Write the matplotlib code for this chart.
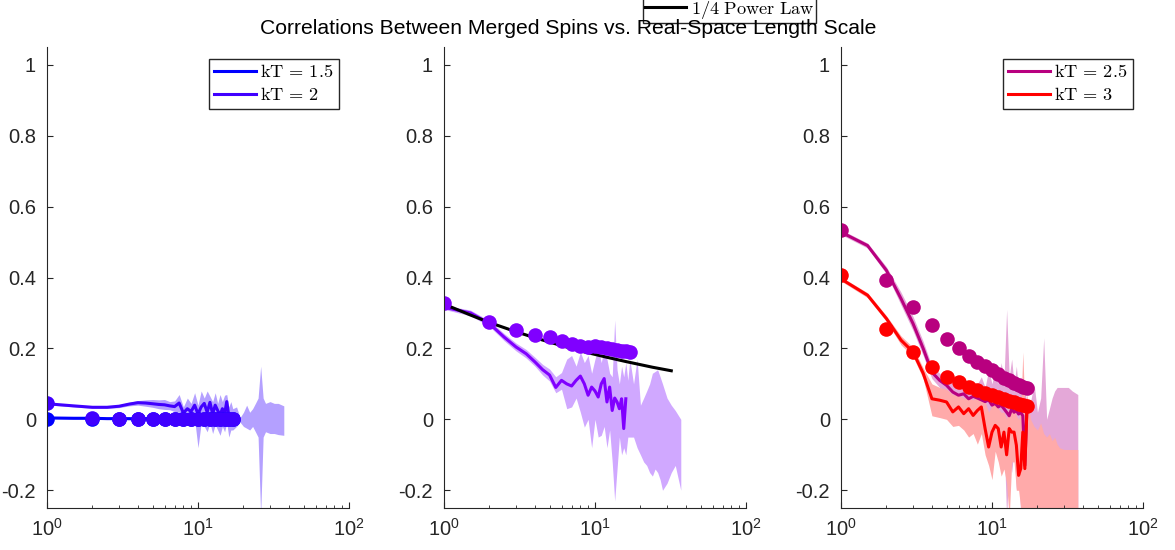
import numpy as np
import matplotlib
matplotlib.use("Agg")
import matplotlib.pyplot as plt
from matplotlib import ticker
from matplotlib.font_manager import FontProperties

plt.rcParams["font.family"] = "Liberation Sans"
plt.rcParams["mathtext.fontset"] = "custom"
plt.rcParams["mathtext.rm"] = "Liberation Sans"
plt.rcParams["mathtext.it"] = "Liberation Sans:italic"

TITLE = "Correlations Between Merged Spins vs. Real-Space Length Scale"

# length scales
x_line = [1, 1.5, 2, 2.5, 3, 3.5, 4, 4.5, 5, 5.5, 6, 6.5, 7, 7.5, 8, 8.5, 9, 9.5,
          10, 10.5, 11, 11.5, 12, 12.5, 13, 13.5, 14, 14.5, 15, 15.5, 16, 16.5, 17]
x_band = x_line + [18, 19, 20, 21, 22, 23, 24, 25, 26, 27, 28, 30, 32, 34, 37]
x_dots = [1, 2, 3, 4, 5, 6, 7, 8, 9, 10, 11, 12, 13, 14, 15, 16, 17]

# kT = 1.5
line_15 = [0.004, 0.003, 0.003, 0.002, 0.002, 0.002, 0.001, 0.002, 0.001, 0.001, 0.001,
           0.000, 0.001, 0.000, 0.001, 0.000, 0.000, 0.001, 0.000, -0.001, 0.000, 0.001,
           0.000, -0.001, 0.000, 0.001, 0.000, -0.001, 0.000, 0.000, 0.001, 0.000, 0.000]
err_15 = [0.002, 0.002, 0.002, 0.002, 0.003, 0.003, 0.003, 0.004, 0.004, 0.005, 0.005,
          0.006, 0.006, 0.007, 0.008, 0.008, 0.009, 0.010, 0.010, 0.011, 0.012, 0.012,
          0.013, 0.014, 0.014, 0.015, 0.016, 0.016, 0.017, 0.018, 0.018, 0.019, 0.020]
dots_15 = [0.0, 0.0, 0.0, 0.0, 0.0, 0.0, 0.0, 0.0, 0.0, 0.0, 0.0, 0.0, 0.0, 0.0, 0.0, 0.0, 0.0]

# kT = 2
line_2 = [0.044, 0.038, 0.034, 0.034, 0.037, 0.043, 0.047, 0.046, 0.044, 0.042, 0.041,
          0.038, 0.036, 0.046, 0.018, 0.030, 0.022, 0.040, 0.015, 0.035, 0.045, 0.020,
          0.048, 0.015, 0.040, 0.025, 0.012, 0.030, 0.015, 0.050, 0.010, 0.005, 0.003]
hi_2 = [0.047, 0.041, 0.037, 0.037, 0.041, 0.048, 0.053, 0.055, 0.056, 0.055, 0.056,
        0.050, 0.052, 0.070, 0.035, 0.060, 0.045, 0.075, 0.040, 0.080, 0.060, 0.080,
        0.065, 0.050, 0.075, 0.045, 0.070, 0.050, 0.068, 0.070, 0.035, 0.050, 0.030,
        0.035, 0.005, 0.020, 0.040, 0.020, 0.030, 0.045, 0.060, 0.150, 0.060, 0.045,
        0.050, 0.045, 0.045, 0.038]
lo_2 = [0.041, 0.035, 0.031, 0.031, 0.033, 0.038, 0.040, 0.037, 0.034, 0.030, 0.028,
        0.027, 0.022, 0.020, -0.010, -0.005, -0.020, 0.000, -0.080, -0.010, -0.020, -0.035,
        -0.010, -0.040, -0.015, -0.030, -0.045, -0.020, -0.035, -0.010, -0.050, -0.030, -0.030,
        -0.020, -0.008, -0.020, -0.025, -0.030, -0.020, -0.035, -0.050, -0.270, -0.050, -0.035,
        -0.040, -0.040, -0.043, -0.045]
dots_2 = [0.045, 0.004, 0.0, 0.0, 0.0, 0.0, 0.0, 0.0, 0.0, 0.0, 0.0, 0.0, 0.0, 0.0, 0.0, 0.0, 0.0]

# middle panel
line_c = [0.316, 0.300, 0.270, 0.232, 0.204, 0.185, 0.162, 0.140, 0.125, 0.090, 0.110,
          0.100, 0.094, 0.110, 0.122, 0.100, 0.068, 0.091, 0.080, 0.063, 0.100, 0.115,
          0.049, 0.091, 0.025, 0.060, 0.049, 0.030, 0.058, -0.026, 0.058, np.nan, 0.037]
hi_c = [0.322, 0.308, 0.278, 0.242, 0.215, 0.197, 0.175, 0.155, 0.142, 0.120, 0.132,
        0.170, 0.180, 0.150, 0.190, 0.160, 0.180, 0.130, 0.170, 0.200, 0.160, 0.200,
        0.170, 0.130, 0.120, 0.280, 0.140, 0.100, 0.150, 0.120, 0.160, 0.110, 0.170,
        0.100, 0.170, 0.040, 0.060, 0.080, 0.100, 0.130, 0.135, 0.140, 0.120, 0.100,
        0.060, 0.040, 0.025, 0.000]
lo_c = [0.310, 0.292, 0.262, 0.222, 0.193, 0.173, 0.150, 0.125, 0.108, 0.075, 0.085,
        0.030, 0.035, 0.060, 0.020, -0.022, 0.000, -0.080, 0.000, -0.050, -0.045, -0.020,
        -0.080, -0.030, -0.120, -0.230, -0.140, -0.050, -0.100, -0.080, -0.100, -0.050, -0.050,
        -0.050, -0.080, -0.100, -0.120, -0.130, -0.150, -0.160, -0.140, -0.150, -0.170, -0.200,
        -0.180, -0.150, -0.130, -0.200]
dots_c = [0.329, 0.274, 0.251, 0.239, 0.232, 0.222, 0.213, 0.208, 0.204, 0.207, 0.203,
          0.200, 0.198, 0.196, 0.194, 0.192, 0.190]
x_pow = [1, 1.5, 2, 3, 4, 6, 8, 12, 16, 24, 32]
y_pow = [0.325, 0.294, 0.273, 0.247, 0.230, 0.208, 0.193, 0.175, 0.163, 0.147, 0.137]

# kT = 2.5
line_25 = [0.528, 0.490, 0.420, 0.340, 0.270, 0.200, 0.133, 0.110, 0.096, 0.077, 0.068,
           0.072, 0.058, 0.065, 0.060, 0.055, 0.050, 0.055, 0.040, 0.045, 0.035, 0.040,
           0.030, 0.020, 0.010, 0.030, 0.020, 0.025, 0.015, 0.020, 0.010, -0.130, 0.020]
hi_25 = [0.535, 0.497, 0.430, 0.358, 0.290, 0.220, 0.150, 0.130, 0.115, 0.100, 0.095,
         0.100, 0.090, 0.100, 0.100, 0.120, 0.090, 0.140, 0.100, 0.150, 0.100, 0.160,
         0.110, 0.310, 0.120, 0.170, 0.100, 0.150, 0.080, 0.120, 0.050, 0.080, 0.050,
         0.050, 0.100, 0.020, 0.060, 0.230, 0.000, 0.030, 0.060, 0.080, 0.090, 0.090,
         0.090, 0.090, 0.080, 0.070]
lo_25 = [0.521, 0.483, 0.410, 0.322, 0.250, 0.180, 0.115, 0.090, 0.077, 0.055, 0.040,
         0.045, 0.025, 0.030, 0.020, -0.010, 0.000, -0.030, -0.020, -0.060, -0.040, -0.100,
         -0.050, -0.280, -0.100, -0.150, -0.080, -0.200, -0.100, -0.280, -0.150, -0.280, -0.200,
         -0.200, -0.280, -0.220, -0.280, -0.250, -0.280, -0.260, -0.280, -0.280, -0.280, -0.280,
         -0.280, -0.280, -0.280, -0.280]
dots_25 = [0.535, 0.394, 0.316, 0.265, 0.227, 0.202, 0.180, 0.162, 0.150, 0.138, 0.128,
           0.118, 0.110, 0.103, 0.097, 0.091, 0.088]

# kT = 3
line_3 = [0.396, 0.350, 0.284, 0.223, 0.190, 0.130, 0.058, 0.054, 0.049, 0.021, 0.035,
          0.016, 0.030, 0.011, 0.025, 0.035, -0.026, -0.078, -0.036, -0.017, -0.026, -0.078,
          -0.036, -0.100, -0.026, -0.036, -0.036, -0.073, -0.158, -0.139, -0.036, -0.139, 0.021]
hi_3 = [0.402, 0.357, 0.292, 0.235, 0.203, 0.145, 0.100, 0.090, 0.085, 0.070, 0.068,
        0.060, 0.060, 0.055, 0.070, 0.080, 0.050, 0.020, 0.040, 0.050, 0.030, 0.020,
        0.020, 0.000, 0.050, 0.040, 0.030, 0.010, 0.000, 0.020, 0.190, 0.030, 0.070,
        0.000, -0.020, -0.030, -0.010, -0.040, -0.050, -0.040, -0.060, -0.050, -0.070, -0.080,
        -0.085, -0.085, -0.085, -0.085]
lo_3 = [0.390, 0.343, 0.276, 0.210, 0.177, 0.115, 0.010, 0.005, 0.000, -0.020, -0.017,
        -0.030, -0.050, -0.040, -0.070, -0.040, -0.100, -0.130, -0.170, -0.090, -0.120, -0.160,
        -0.140, -0.180, -0.280, -0.120, -0.120, -0.200, -0.200, -0.250, -0.280, -0.280, -0.280,
        -0.280, -0.280, -0.280, -0.280, -0.280, -0.280, -0.280, -0.280, -0.280, -0.280, -0.280,
        -0.280, -0.280, -0.280, -0.280]
dots_3 = [0.406, 0.255, 0.190, 0.147, 0.119, 0.105, 0.091, 0.082, 0.075, 0.068, 0.062,
          0.057, 0.052, 0.048, 0.044, 0.041, 0.038]

C15, C2, CC, C25, C3 = "#0000FF", "#4000FF", "#8000FF", "#B8007F", "#FF0000"
AXC = "#262626"
MS = 10.5

fig = plt.figure(figsize=(11.75, 5.5), dpi=100)
lefts = [47, 444, 841]
axes = [fig.add_axes([l / 1175, 1 - 508 / 550, 302 / 1175, 461 / 550]) for l in lefts]

leg_font = FontProperties(size=13.2, math_fontfamily="cm")
leg_kw = dict(prop=leg_font, fancybox=False, edgecolor=AXC, framealpha=1,
              handlelength=2.25, handletextpad=0.25, borderpad=0.3, labelspacing=0.3,
              borderaxespad=0)


def style(ax):
    ax.set_xscale("log")
    ax.set_xlim(1, 100)
    ax.set_ylim(-0.25, 1.05)
    ax.set_yticks([-0.2, 0, 0.2, 0.4, 0.6, 0.8, 1])
    ax.yaxis.set_major_formatter(ticker.FormatStrFormatter("%g"))
    for s in ["top", "right"]:
        ax.spines[s].set_visible(False)
    for s in ["left", "bottom"]:
        ax.spines[s].set_color(AXC)
        ax.spines[s].set_linewidth(0.8)
    ax.tick_params(which="both", direction="in", colors=AXC, labelsize=14.5)
    ax.tick_params(which="major", length=4, width=0.8)
    ax.tick_params(which="minor", length=2.5, width=0.6)
    ax.tick_params(axis="y", pad=8)
    ax.tick_params(axis="x", pad=7)


def band(ax, lo, hi, color):
    ax.fill_between(x_band, lo, hi, color=color, linewidth=0)


# left panel
ax = axes[0]
ax.fill_between(x_line, np.array(line_15) - np.array(err_15),
                np.array(line_15) + np.array(err_15), color="#9999FF", linewidth=0)
band(ax, lo_2, hi_2, "#B4A0FF")
h2, = ax.plot(x_line, line_2, color=C2, lw=2.2)
h15, = ax.plot(x_line, line_15, color=C15, lw=2.2)
ax.plot(x_dots, dots_15, "o", color=C15, ms=MS, mec="none")
ax.plot(x_dots, dots_2, "o", color=C2, ms=MS, mec="none")
style(ax)
ax.legend([h15, h2], [r"$\mathrm{kT}\,=\,1.5$", r"$\mathrm{kT}\,=\,2$"],
          loc="upper right", bbox_to_anchor=(0.967, 0.974), **leg_kw)

# middle panel
ax = axes[1]
band(ax, lo_c, hi_c, "#D0A8FF")
ax.plot(x_line, line_c, color=CC, lw=2.2)
hp, = ax.plot(x_pow, y_pow, color="black", lw=2.2)
ax.plot(x_dots, dots_c, "o", color=CC, ms=MS, mec="none")
style(ax)
mid_kw = dict(leg_kw, borderpad=0.1)
ax.legend([hp], [r"$1/4\ \mathrm{Power\ Law}$"],
          loc="lower left", bbox_to_anchor=(643 / 1175, 1 - 22.7 / 550),
          bbox_transform=fig.transFigure, **mid_kw)

# right panel
ax = axes[2]
band(ax, lo_25, hi_25, "#E4A8D8")
band(ax, lo_3, hi_3, "#FFAAAA")
h25, = ax.plot(x_line, line_25, color=C25, lw=2.2)
h3, = ax.plot(x_line, line_3, color=C3, lw=2.2)
ax.plot(x_dots, dots_25, "o", color=C25, ms=MS, mec="none")
ax.plot(x_dots, dots_3, "o", color=C3, ms=MS, mec="none")
style(ax)
ax.legend([h25, h3], [r"$\mathrm{kT}\,=\,2.5$", r"$\mathrm{kT}\,=\,3$"],
          loc="upper right", bbox_to_anchor=(0.967, 0.974), **leg_kw)

fig.text(568 / 1175, 1 - 28 / 550, TITLE, ha="center", va="center",
         fontsize=15.2, color="black", zorder=1)

fig.savefig("out.png", dpi=100)
